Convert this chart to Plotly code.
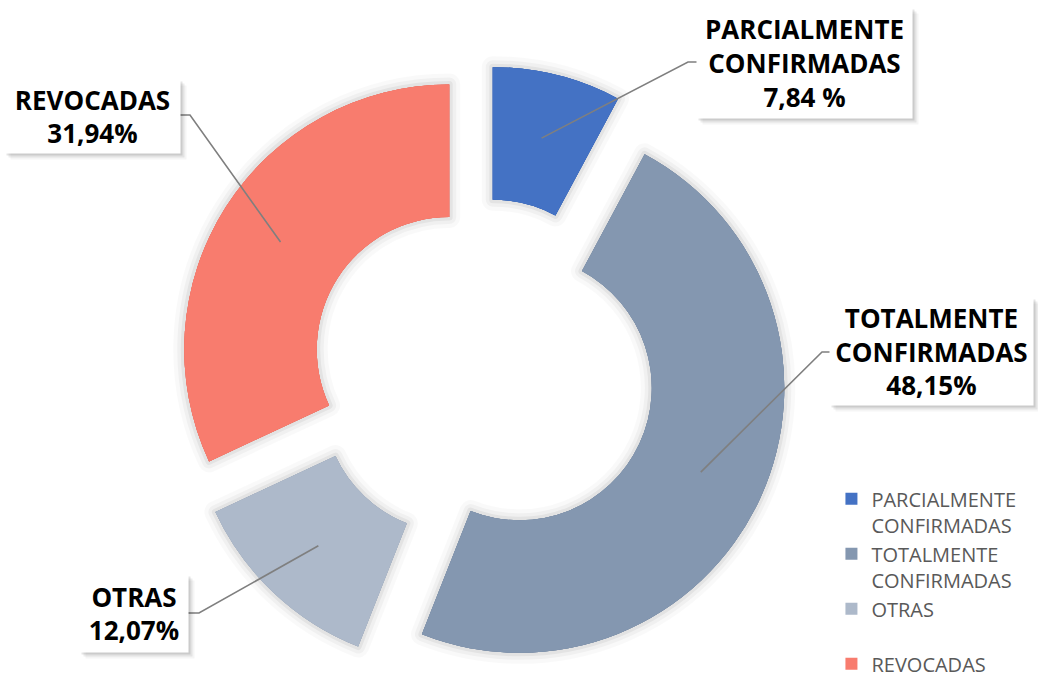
import math
import plotly.graph_objects as go

# ---------------- data ----------------
categories = ["PARCIALMENTE CONFIRMADAS", "TOTALMENTE CONFIRMADAS", "OTRAS", "REVOCADAS"]
legend_labels = ["PARCIALMENTE<br>CONFIRMADAS", "TOTALMENTE<br>CONFIRMADAS", "OTRAS<br> ", "REVOCADAS"]
values = [7.84, 48.15, 12.07, 31.94]
label_names = ["PARCIALMENTE<br>CONFIRMADAS", "TOTALMENTE<br>CONFIRMADAS", "OTRAS", "REVOCADAS"]
pct_labels = ["7,84 %", "48,15%", "12,07%", "31,94%"]
colors = ["#4472C4", "#8497B0", "#ADB9CA", "#F87C6E"]

# ---------------- geometry / style ----------------
W, H = 1038, 677
CX, CY = 483, 371          # pie centre (px)
R = 265                    # outer radius (px)
PULL = 0.151
HOLE = 0.5
half = R * (1 + PULL)
dom_x = [(CX - half) / W, (CX + half) / W]
dom_y = [1 - (CY + half) / H, 1 - (CY - half) / H]

def px(x, y):
    return x / W, 1 - y / H

fig = go.Figure()

# soft glow/shadow layers under the slices
for lw, alpha in [(22, 0.022), (14, 0.035), (7, 0.05)]:
    fig.add_trace(go.Pie(
        labels=legend_labels, values=values, sort=False, direction="clockwise",
        rotation=0, hole=HOLE, pull=[PULL] * len(values),
        marker=dict(colors=colors, line=dict(color=f"rgba(0,0,0,{alpha})", width=lw)),
        textinfo="none", hoverinfo="skip", showlegend=False,
        domain=dict(x=dom_x, y=dom_y),
    ))

fig.add_trace(go.Pie(
    labels=legend_labels, values=values, sort=False, direction="clockwise",
    rotation=0, hole=HOLE, pull=[PULL] * len(values),
    marker=dict(colors=colors, line=dict(width=0)),
    textinfo="none", hovertext=categories, hoverinfo="text+percent",
    showlegend=True,
    domain=dict(x=dom_x, y=dom_y),
))

# label boxes: centre (px) and size (px); leader-line stubs (box side px, knee px)
box_centres = [(804.5, 63), (931.5, 351.5), (134, 613.5), (92.5, 116.5)]
box_sizes = [(215, 110), (203, 107), (108, 77), (175, 73)]
stubs = [((697, 62), (688, 62)), ((830, 352), (822, 352)),
         ((188, 613), (199, 613)), ((180, 115), (190, 115))]

total = sum(values)
cum = 0.0
shapes = []
annotations = []
for i, v in enumerate(values):
    mid = 2 * math.pi * (cum + v / 2) / total
    cum += v
    k = (PULL + 0.755) * R
    ex, ey = CX + k * math.sin(mid), CY - k * math.cos(mid)
    (sx, sy), (kx, ky) = stubs[i]
    p0, p1, p2 = px(sx, sy), px(kx, ky), px(ex, ey)
    shapes.append(dict(
        type="path", xref="paper", yref="paper",
        path=f"M {p0[0]} {p0[1]} L {p1[0]} {p1[1]} L {p2[0]} {p2[1]}",
        line=dict(color="#7F7F7F", width=1.6), layer="above",
    ))
    text = f"{label_names[i]}<br>{pct_labels[i]}"
    bx, by = px(*box_centres[i])
    bw, bh = box_sizes[i]
    for sh, a in [(6, 0.04), (4, 0.07), (2, 0.10)]:
        annotations.append(dict(
            x=bx, y=by, xref="paper", yref="paper", showarrow=False,
            text=" ", xanchor="center", yanchor="middle",
            width=bw, height=bh, borderpad=0,
            font=dict(family="Open Sans", size=10, color="rgba(0,0,0,0)"),
            bgcolor=f"rgba(0,0,0,{a})", xshift=sh, yshift=-sh,
        ))
    annotations.append(dict(
        x=bx, y=by, xref="paper", yref="paper", showarrow=False,
        text=text, xanchor="center", yanchor="middle", align="center",
        width=bw, height=bh, borderpad=0,
        font=dict(family="Open Sans", size=26, color="#000000", weight="bold"),
        bgcolor="white",
    ))

fig.update_layout(
    width=W, height=H,
    margin=dict(l=0, r=0, t=0, b=0, autoexpand=False),
    paper_bgcolor="white", plot_bgcolor="white",
    shapes=shapes, annotations=annotations,
    legend=dict(
        x=0.801, y=0.292, xanchor="left", yanchor="top",
        font=dict(family="Open Sans", size=20, color="#595959"),
        valign="top", itemwidth=30, bgcolor="rgba(0,0,0,0)", traceorder="normal",
    ),
)

fig.write_html(
    "out.html",
    config={"displayModeBar": False},
    post_script="document.body.style.margin='0px';document.body.style.overflow='hidden';",
)
